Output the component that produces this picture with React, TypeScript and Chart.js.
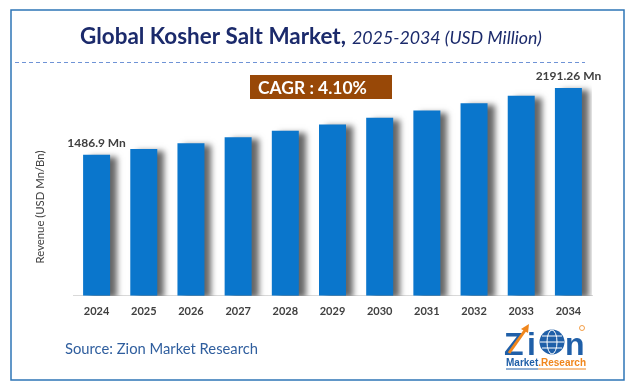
import React, { useEffect, useRef } from "react";
import { Chart, registerables } from "chart.js";

Chart.register(...registerables);

const years = ["2024", "2025", "2026", "2027", "2028", "2029", "2030", "2031", "2032", "2033", "2034"];
const revenue = [1486.9, 1547.6, 1609.2, 1671.0, 1739.5, 1805.8, 1876.1, 1952.3, 2029.0, 2108.4, 2191.26];
const labeledIndexes = [0, 10];
const titleMain = "Global Kosher Salt Market,";
const titleSub = "2025-2034 (USD Million)";
const cagrText = "CAGR : 4.10%";
const yAxisTitle = "Revenue (USD Mn/Bn)";
const sourceText = "Source: Zion Market Research";

const FONT = "Lato, 'Open Sans', sans-serif";

function fitFont(ctx: CanvasRenderingContext2D, text: string, style: string, size: number, target: number) {
  ctx.font = `${style} ${size}px ${FONT}`;
  const w = ctx.measureText(text).width;
  let s = size * (target / w);
  s = Math.max(size * 0.8, Math.min(size * 1.25, s));
  ctx.font = `${style} ${s}px ${FONT}`;
  return s;
}

const decorPlugin = {
  id: "decor",
  beforeDraw(chart: any) {
    const ctx = chart.ctx as CanvasRenderingContext2D;
    ctx.save();
    ctx.fillStyle = "#ffffff";
    ctx.fillRect(0, 0, chart.width, chart.height);
    // frame
    ctx.strokeStyle = "#2e75b6";
    ctx.lineWidth = 1.5;
    ctx.strokeRect(11, 10, 613, 370);
    // dashed line
    ctx.strokeStyle = "#6f93d6";
    ctx.lineWidth = 1;
    ctx.setLineDash([4, 3]);
    ctx.beginPath();
    ctx.moveTo(15, 62.5);
    ctx.lineTo(585, 62.5);
    ctx.stroke();
    ctx.setLineDash([]);
    // title
    ctx.fillStyle = "#1b2a6b";
    ctx.textBaseline = "alphabetic";
    ctx.textAlign = "left";
    fitFont(ctx, titleMain, "bold", 20, 266);
    ctx.fillText(titleMain, 80, 44);
    fitFont(ctx, titleSub, "italic", 18, 190);
    ctx.fillText(titleSub, 352, 44);
    // CAGR box
    ctx.fillStyle = "#984807";
    ctx.fillRect(250, 75, 142, 24);
    ctx.fillStyle = "#ffffff";
    ctx.textBaseline = "middle";
    fitFont(ctx, cagrText, "bold", 17, 109);
    ctx.fillText(cagrText, 258, 88);
    // y title
    ctx.save();
    ctx.translate(40, 207);
    ctx.rotate(-Math.PI / 2);
    ctx.textAlign = "center";
    ctx.fillStyle = "#404040";
    fitFont(ctx, yAxisTitle, "normal", 12, 113);
    ctx.fillText(yAxisTitle, 0, 0);
    ctx.restore();
    // source
    ctx.fillStyle = "#2f5e9e";
    ctx.textAlign = "left";
    ctx.textBaseline = "middle";
    fitFont(ctx, sourceText, "normal", 15, 193);
    ctx.fillText(sourceText, 65, 349);
    // logo
    drawLogo(ctx);
    ctx.restore();
  },
  beforeDatasetsDraw(chart: any) {
    const ctx = chart.ctx as CanvasRenderingContext2D;
    ctx.save();
    ctx.shadowColor = "rgba(0,0,0,0.6)";
    ctx.shadowOffsetX = 7;
    ctx.shadowOffsetY = 2;
    ctx.shadowBlur = 6;
  },
  afterDatasetsDraw(chart: any) {
    const ctx = chart.ctx as CanvasRenderingContext2D;
    ctx.restore();
    ctx.save();
    const meta = chart.getDatasetMeta(0);
    ctx.fillStyle = "#404040";
    ctx.textAlign = "center";
    ctx.textBaseline = "middle";
    ctx.font = `bold 12px ${FONT}`;
    labeledIndexes.forEach((i) => {
      const bar = meta.data[i];
      const txt = `${revenue[i]} Mn`;
      ctx.fillText(txt, bar.x, bar.y - 12);
    });
    ctx.restore();
  },
};

function drawLogo(ctx: CanvasRenderingContext2D) {
  const blue = "#1f5fa8";
  const orange = "#f0861c";
  ctx.save();
  ctx.textAlign = "left";
  ctx.textBaseline = "alphabetic";
  ctx.fillStyle = blue;
  ctx.font = `bold 32px 'Liberation Sans', Arial, sans-serif`;
  ctx.fillText("Z", 504, 355);
  ctx.fillText("i", 527, 355);
  ctx.fillText("n", 565, 355);
  // globe
  ctx.beginPath();
  ctx.arc(552, 342, 12.5, 0, Math.PI * 2);
  ctx.fill();
  ctx.strokeStyle = "#ffffff";
  ctx.lineWidth = 1;
  ctx.beginPath();
  ctx.ellipse(552, 342, 5, 12, 0, 0, Math.PI * 2);
  ctx.moveTo(540, 342);
  ctx.lineTo(564, 342);
  ctx.moveTo(542, 336);
  ctx.lineTo(562, 336);
  ctx.moveTo(542, 348);
  ctx.lineTo(562, 348);
  ctx.stroke();
  // arrow slash
  ctx.strokeStyle = orange;
  ctx.lineWidth = 3;
  ctx.beginPath();
  ctx.moveTo(509, 353);
  ctx.lineTo(526, 329);
  ctx.stroke();
  ctx.fillStyle = orange;
  ctx.beginPath();
  ctx.moveTo(529, 324);
  ctx.lineTo(521, 329);
  ctx.lineTo(528, 333);
  ctx.closePath();
  ctx.fill();
  // registered mark
  ctx.strokeStyle = orange;
  ctx.lineWidth = 0.8;
  ctx.beginPath();
  ctx.arc(582, 328, 2.5, 0, Math.PI * 2);
  ctx.stroke();
  // Market.Research
  ctx.font = `bold 10px 'Liberation Sans', Arial, sans-serif`;
  ctx.fillStyle = blue;
  ctx.fillText("Market", 506, 366);
  const mw = ctx.measureText("Market").width;
  ctx.fillStyle = orange;
  ctx.fillText(".Research", 506 + mw, 366);
  const rw = ctx.measureText(".Research").width;
  ctx.lineWidth = 1;
  ctx.strokeStyle = blue;
  ctx.beginPath();
  ctx.moveTo(506, 369);
  ctx.lineTo(506 + mw, 369);
  ctx.stroke();
  ctx.strokeStyle = orange;
  ctx.beginPath();
  ctx.moveTo(506 + mw, 369);
  ctx.lineTo(506 + mw + rw, 369);
  ctx.stroke();
  ctx.restore();
}

export default function App() {
  const ref = useRef<HTMLCanvasElement | null>(null);
  useEffect(() => {
    if (!ref.current) return;
    const chart = new Chart(ref.current, {
      type: "bar",
      data: {
        labels: years,
        datasets: [
          {
            data: revenue,
            backgroundColor: "#0a76cc",
            borderWidth: 0,
            barPercentage: 0.572,
            categoryPercentage: 1,
          },
        ],
      },
      options: {
        responsive: false,
        animation: false,
        layout: { padding: { left: 73, right: 40, top: 70, bottom: 61 } },
        plugins: { legend: { display: false }, tooltip: { enabled: false }, title: { display: false } },
        scales: {
          x: {
            grid: { display: false, drawTicks: false },
            border: { display: true, color: "#d9d9d9", width: 1 },
            ticks: { color: "#404040", font: { family: FONT, size: 11, weight: "bold" }, padding: 9 },
          },
          y: { display: false, min: 0, max: 2380 },
        },
      },
      plugins: [decorPlugin],
    });
    return () => chart.destroy();
  }, []);
  return (
    <div style={{ position: "fixed", left: 0, top: 0, width: 632, height: 388, background: "#fff" }}>
      <canvas ref={ref} width={632} height={388} style={{ display: "block" }} />
    </div>
  );
}
